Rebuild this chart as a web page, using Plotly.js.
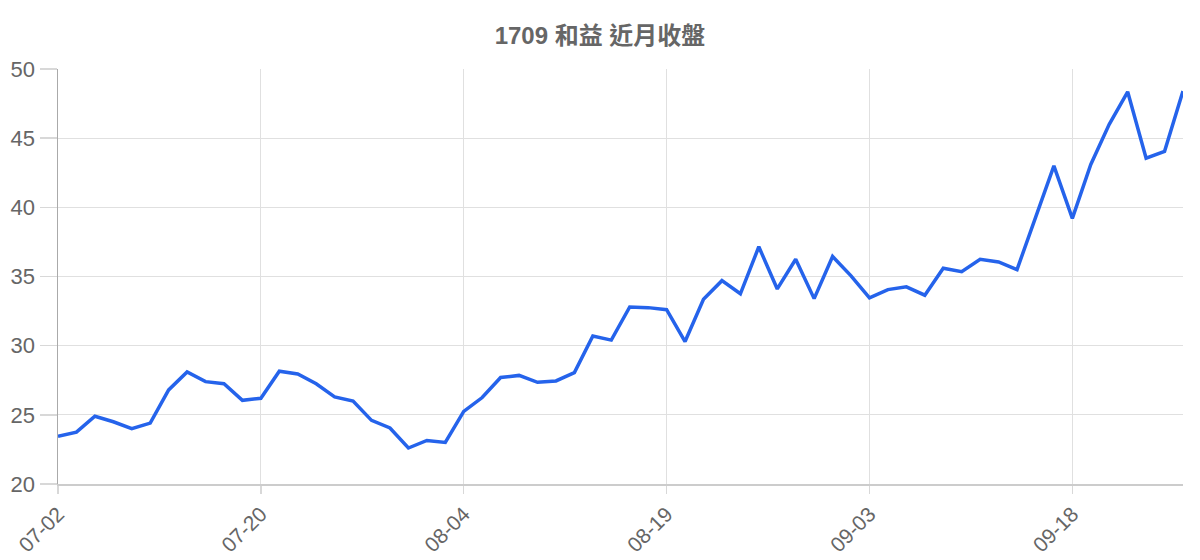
<!DOCTYPE html>
<html>
<head>
<meta charset="utf-8">
<script src="https://cdn.plot.ly/plotly-3.0.1.min.js"></script>
<style>
  html, body { margin: 0; padding: 0; background: #fff; }
  #chart { width: 1200px; height: 560px; }
</style>
</head>
<body>
<div id="chart"></div>
<script>
    // --- DATA: trading dates and near-month closing prices ---
    const dates = [
        '07-02', '07-03', '07-04', '07-07', '07-08', '07-09', '07-10', '07-11', '07-14', '07-15', '07-17',
        '07-20', '07-21', '07-22', '07-23', '07-24', '07-25', '07-28', '07-29', '07-30', '07-31', '08-01',
        '08-04', '08-05', '08-06', '08-07', '08-08', '08-11', '08-12', '08-13', '08-14', '08-15', '08-18',
        '08-19', '08-20', '08-21', '08-22', '08-25', '08-26', '08-27', '08-28', '08-29', '09-01', '09-02',
        '09-03', '09-04', '09-05', '09-08', '09-09', '09-10', '09-11', '09-12', '09-15', '09-16', '09-17',
        '09-18', '09-19', '09-22', '09-23', '09-24', '09-25', '09-26'
    ];

    const closes = [
        23.45, 23.75, 24.9, 24.5, 24.0, 24.4, 26.8, 28.1, 27.4, 27.25, 26.05,
        26.2, 28.15, 27.95, 27.25, 26.3, 26.0, 24.6, 24.05, 22.6, 23.15, 23.0,
        25.25, 26.25, 27.7, 27.85, 27.35, 27.45, 28.05, 30.7, 30.4, 32.8, 32.75,
        32.6, 30.3, 33.35, 34.7, 33.75, 37.15, 34.1, 36.25, 33.4, 36.45, 35.05,
        33.45, 34.05, 34.25, 33.65, 35.6, 35.35, 36.25, 36.05, 35.5, 39.2, 43.0,
        39.2, 43.1, 46.0, 48.35, 43.55, 44.05, 48.4
    ];

    // every 11th date gets a label, like the original
    const tickStep = 11;
    const tickIdx = dates.map((d, i) => i).filter(i => i % tickStep === 0);
    const tickText = tickIdx.map(i => dates[i]);

    const yTicks = [20, 25, 30, 35, 40, 45, 50];

    const FONT = 'Liberation Sans, Arial, "Noto Sans CJK TC", sans-serif';

    const trace = {
        type: 'scatter',
        mode: 'lines',
        x: dates.map((d, i) => i),
        y: closes,
        text: dates,
        line: { color: '#2563eb', width: 3.5, shape: 'linear' },
        hovertemplate: '%{text}: %{y}<extra></extra>'
    };

    const layout = {
        width: 1200,
        height: 560,
        margin: { l: 58, r: 17, t: 69, b: 76 },
        paper_bgcolor: '#fff',
        plot_bgcolor: '#fff',
        showlegend: false,
        title: {
            text: '<b>1709 和益 近月收盤</b>',
            x: 0.5,
            xanchor: 'center',
            y: 0.937,
            yanchor: 'middle',
            font: { family: FONT, size: 24, color: '#666' }
        },
        xaxis: {
            range: [0, dates.length - 1],
            tickmode: 'array',
            tickvals: tickIdx,
            ticktext: tickText,
            tickangle: -45,
            ticks: 'outside',
            ticklen: 8,
            tickwidth: 1.5,
            tickcolor: '#d8d8d8',
            showgrid: true,
            gridcolor: '#e0e0e0',
            gridwidth: 1,
            showline: true,
            linecolor: '#cccccc',
            linewidth: 1.5,
            zeroline: false,
            automargin: false,
            tickfont: { family: FONT, size: 21, color: '#666' }
        },
        yaxis: {
            range: [20, 50],
            tickmode: 'array',
            tickvals: yTicks,
            ticks: 'outside',
            ticklen: 17,
            tickwidth: 1.5,
            tickcolor: '#d8d8d8',
            showgrid: true,
            gridcolor: '#e0e0e0',
            gridwidth: 1,
            showline: true,
            linecolor: '#aaaaaa',
            linewidth: 1.5,
            zeroline: false,
            automargin: false,
            tickfont: { family: FONT, size: 22, color: '#666' }
        }
    };

    Plotly.newPlot('chart', [trace], layout, { displayModeBar: false, staticPlot: true });
</script>
</body>
</html>
